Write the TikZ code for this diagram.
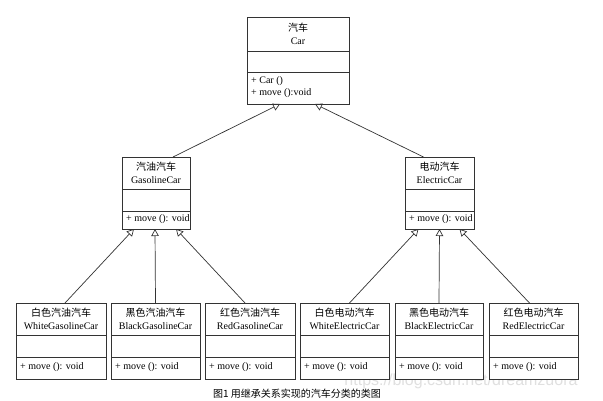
\documentclass[tikz,border=0pt]{standalone}
\usepackage{fontspec}
\setmainfont{Liberation Serif}
\newfontfamily\cjk{Noto Sans CJK SC}
\newfontfamily\wmfont{Liberation Sans}
\usetikzlibrary{arrows.meta}
\tikzset{
  classbox/.style={draw=black!80, line width=0.8pt, inner sep=0pt, outer sep=0pt, fill=white},
  classline/.style={draw=black!80, line width=0.8pt},
  classtitle/.style={align=center, inner sep=0pt, font=\fontsize{10}{12.5}\selectfont},
  classmeth/.style={align=left, anchor=west, inner sep=0pt, font=\fontsize{10}{12}\selectfont},
  inherit/.style={draw=black!80, line width=0.7pt, -{Triangle[open, length=7pt, width=7.5pt, line width=0.7pt]}},
}
% name, xl, xr, yt, y1, y2, yb, title, methods
\newcommand{\umlclass}[9]{%
  \node[classbox, minimum width={(#3-#2)*1pt}, minimum height={(#7-#4)*1pt}, anchor=north west] (#1) at (#2,#4) {};
  \draw[classline] (#2,#5) -- (#3,#5);
  \draw[classline] (#2,#6) -- (#3,#6);
  \node[classtitle] (#1-t) at ({(#2+#3)/2},{(#4+#5)/2}) {#8};
  \node[classmeth] (#1-m) at ({#2+4},{(#6+#7)/2-0.5}) {#9};
}
\begin{document}
\begin{tikzpicture}[x=1pt,y=-1pt]
\useasboundingbox[fill=white] (0,0) rectangle (603,400);

\node[text=black!12, font=\wmfont\fontsize{16}{16}\selectfont, inner sep=0pt, anchor=base] (wm) at (461,385) {https://blog.csdn.net/dreamzuora};

\umlclass{car}{247}{349}{17}{51}{72}{104}{{\cjk 汽车}\\Car}{+ Car ()\\+ move ():void}
\umlclass{gas}{122}{190}{157}{189}{211}{229}{{\cjk 汽油汽车}\\GasolineCar}{+ move (): void}
\umlclass{ele}{405}{474}{157}{189}{211}{229}{{\cjk 电动汽车}\\ElectricCar}{+ move (): void}

\umlclass{wg}{16}{106}{303}{335}{357}{379}{{\cjk 白色汽油汽车}\\WhiteGasolineCar}{+ move (): void}
\umlclass{bg}{111}{200}{303}{335}{357}{379}{{\cjk 黑色汽油汽车}\\BlackGasolineCar}{+ move (): void}
\umlclass{rg}{205}{295}{303}{335}{357}{379}{{\cjk 红色汽油汽车}\\RedGasolineCar}{+ move (): void}
\umlclass{we}{300}{389}{303}{335}{357}{379}{{\cjk 白色电动汽车}\\WhiteElectricCar}{+ move (): void}
\umlclass{be}{395}{483}{303}{335}{357}{379}{{\cjk 黑色电动汽车}\\BlackElectricCar}{+ move (): void}
\umlclass{re}{489}{578}{303}{335}{357}{379}{{\cjk 红色电动汽车}\\RedElectricCar}{+ move (): void}

\draw[inherit] ([xshift=17pt]gas.north) -- ([xshift=-18pt]car.south);
\draw[inherit] ([xshift=-16pt]ele.north) -- ([xshift=17pt]car.south);

\draw[inherit] ([xshift=4pt]wg.north) -- ([xshift=-22pt]gas.south);
\draw[inherit] (bg.north) -- ([xshift=-1pt]gas.south);
\draw[inherit] ([xshift=-5pt]rg.north) -- ([xshift=20pt]gas.south);

\draw[inherit] ([xshift=5pt]we.north) -- ([xshift=-21pt]ele.south);
\draw[inherit] (be.north) -- ([xshift=0pt]ele.south);
\draw[inherit] ([xshift=-4pt]re.north) -- ([xshift=20pt]ele.south);

\node[font=\cjk\fontsize{10}{12}\selectfont, inner sep=0pt, anchor=west] (cap) at (213,394) {图1 用继承关系实现的汽车分类的类图};
\end{tikzpicture}
\end{document}
